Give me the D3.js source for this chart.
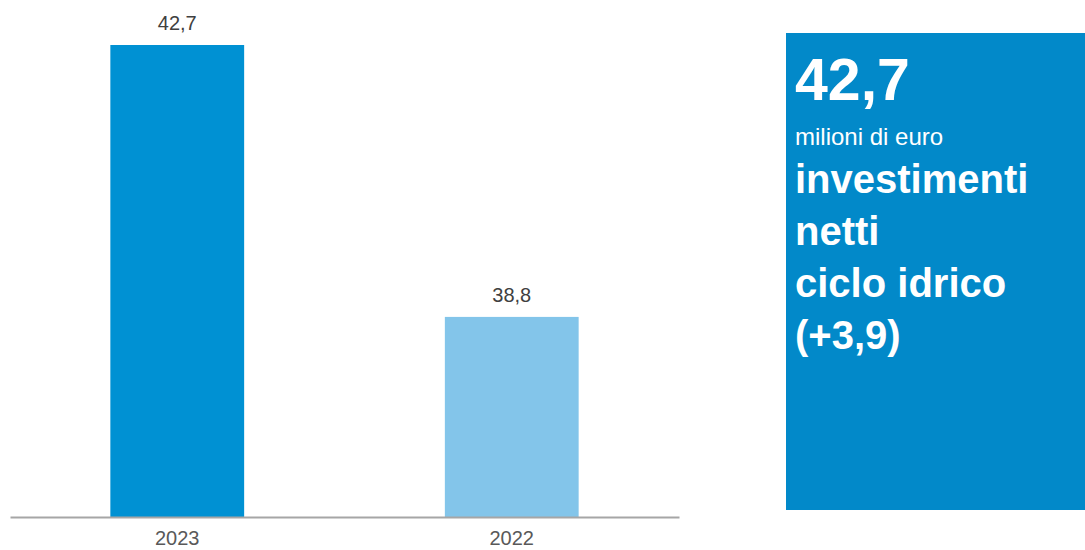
<!DOCTYPE html>
<html>
<head>
<meta charset="utf-8">
<script src="https://cdn.jsdelivr.net/npm/d3@7"></script>
<style>
  html, body { margin: 0; padding: 0; background: #fff; }
  svg { display: block; font-family: "Liberation Sans", Arial, sans-serif; }
</style>
</head>
<body>
<svg id="chart"></svg>
<script>
const years = ["2023", "2022"];
const values = [42.7, 38.8];
const barColors = ["#0091d3", "#83c5ea"];
const panelLines = ["investimenti", "netti", "ciclo idrico", "(+3,9)"];
const panelValue = "42,7";
const panelUnit = "milioni di euro";

const W = 1085, H = 550;
const svg = d3.select("#chart").attr("width", W).attr("height", H);

const fmt = v => v.toFixed(1).replace(".", ",");

const x = d3.scaleBand()
    .domain(years)
    .range([10, 679])
    .paddingInner(0.6)
    .paddingOuter(0.3);

// axis does not start at zero
const y = d3.scaleLinear()
    .domain([35.93, 42.7])
    .range([517, 45]);

svg.append("g")
    .selectAll("rect")
    .data(years)
    .join("rect")
    .attr("x", d => x(d))
    .attr("y", (d, i) => y(values[i]))
    .attr("width", x.bandwidth())
    .attr("height", (d, i) => y(35.93) - y(values[i]))
    .attr("fill", (d, i) => barColors[i]);

svg.append("g")
    .attr("fill", "#404040")
    .attr("text-anchor", "middle")
    .attr("font-size", 20)
    .selectAll("text")
    .data(years)
    .join("text")
    .attr("x", d => x(d) + x.bandwidth() / 2)
    .attr("y", (d, i) => y(values[i]) - 15)
    .text((d, i) => fmt(values[i]));

const xAxis = g => g
    .attr("transform", "translate(0,517)")
    .call(d3.axisBottom(x).tickSize(0).tickPadding(14).tickSizeOuter(0))
    .call(g => g.select(".domain").attr("stroke", "#a6a6a6").attr("stroke-width", 2))
    .call(g => g.selectAll("text").attr("font-size", 20).attr("fill", "#595959")
        .attr("font-family", "Liberation Sans, Arial, sans-serif"));

svg.append("g").call(xAxis);

// info panel on the right
const panel = svg.append("g");
panel.append("rect")
    .attr("x", 786).attr("y", 33)
    .attr("width", W - 786).attr("height", 477)
    .attr("fill", "#0289c9");

panel.append("text")
    .attr("x", 795).attr("y", 100)
    .attr("fill", "#fff")
    .attr("font-weight", "bold")
    .attr("font-size", 59)
    .text(panelValue);

panel.append("text")
    .attr("x", 795).attr("y", 145)
    .attr("fill", "#fff")
    .attr("font-size", 24)
    .text(panelUnit);

panel.append("g")
    .attr("fill", "#fff")
    .attr("font-weight", "bold")
    .attr("font-size", 40)
    .selectAll("text")
    .data(panelLines)
    .join("text")
    .attr("x", 795)
    .attr("y", (d, i) => 193 + i * 52)
    .text(d => d);
</script>
</body>
</html>
